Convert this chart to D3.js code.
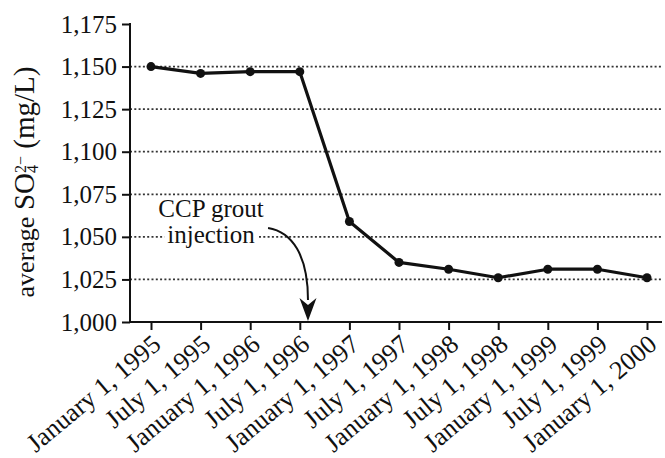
<!DOCTYPE html>
<html>
<head>
<meta charset="utf-8">
<script src="https://cdn.jsdelivr.net/npm/d3@7/dist/d3.min.js"></script>
<style>
    body { margin: 0; background: #fff; }
    svg { display: block; }
    text { font-family: "Liberation Serif", "Times New Roman", serif; fill: #111; }
</style>
</head>
<body>
<svg id="chart" width="665" height="458"></svg>
<script>
// sample dates (evenly spaced half years)
var dates = ["January 1, 1995", "July 1, 1995", "January 1, 1996", "July 1, 1996",
    "January 1, 1997", "July 1, 1997", "January 1, 1998", "July 1, 1998",
    "January 1, 1999", "July 1, 1999", "January 1, 2000"];

// average sulfate, mg/L
var sulfate = [1150, 1146, 1147, 1147, 1059, 1035, 1031, 1026, 1031, 1031, 1026];

var yTicks = [1000, 1025, 1050, 1075, 1100, 1125, 1150, 1175];
var gridValues = [1025, 1050, 1075, 1100, 1125, 1150];

// annotation, in data units (x = date index, y = mg/L)
var noteLines = ["CCP grout", "injection"];
var noteAt = [1.21, 1061.5];
var arrowPath = [[2.36, 1055.2], [2.84, 1052.9], [3.165, 1039.4], [3.165, 1012.9]];
var arrowTip = [3.165, 1000.6];

d3.select(window).on('load', init);

function init() {
    var svg = d3.select('#chart');
    var left = 130, right = 662, top = 24, bottom = 322;

    var x = d3.scaleLinear()
        .domain([0, dates.length - 1])
        .range([151, 647]);

    var y = d3.scaleLinear()
        .domain([1000, 1175])
        .range([bottom, top]);

    // dotted grid
    svg.append('g')
        .selectAll('line')
        .data(gridValues)
        .enter()
        .append('line')
        .attr('x1', left)
        .attr('x2', right)
        .attr('y1', function(d){ return y(d); })
        .attr('y2', function(d){ return y(d); })
        .attr('stroke', '#333')
        .attr('stroke-width', 1.8)
        .attr('stroke-dasharray', '2,2.3');

    // y axis
    var yAxis = d3.axisLeft(y)
        .tickValues(yTicks)
        .tickFormat(d3.format(','))
        .tickSize(8)
        .tickPadding(5);

    var gy = svg.append('g')
        .attr('transform', 'translate(' + left + ',0)')
        .call(yAxis);
    gy.select('.domain').remove();
    gy.selectAll('.tick line').attr('stroke', '#111').attr('stroke-width', 2);
    gy.selectAll('.tick text')
        .style('font-size', '25px')
        .style('font-family', '"Liberation Serif", serif')
        .attr('fill', '#111');
    gy.append('line')
        .attr('x1', 0).attr('x2', 0)
        .attr('y1', top - 1).attr('y2', bottom + 1)
        .attr('stroke', '#111').attr('stroke-width', 2);

    // x axis
    var xAxis = d3.axisBottom(x)
        .tickValues(d3.range(dates.length))
        .tickFormat(function(i){ return dates[i]; })
        .tickSize(8);

    var gx = svg.append('g')
        .attr('transform', 'translate(0,' + bottom + ')')
        .call(xAxis);
    gx.select('.domain').remove();
    gx.selectAll('.tick line').attr('stroke', '#111').attr('stroke-width', 2);
    gx.selectAll('.tick text')
        .style('font-size', '26px')
        .style('font-family', '"Liberation Serif", serif')
        .attr('fill', '#111')
        .attr('text-anchor', 'end')
        .attr('dy', null)
        .attr('y', null)
        .attr('transform', 'translate(11,25) rotate(-40)');
    gx.append('line')
        .attr('x1', left - 1).attr('x2', right)
        .attr('y1', 0).attr('y2', 0)
        .attr('stroke', '#111').attr('stroke-width', 2);

    // y label
    var yl = svg.append('text')
        .attr('transform', 'translate(34,182) rotate(-90)')
        .attr('text-anchor', 'middle');
    yl.append('tspan').text('average ').style('font-size', '26px');
    yl.append('tspan').text('SO').style('font-size', '29px');
    yl.append('tspan').text('4').style('font-size', '16px').attr('dy', 4);
    yl.append('tspan').text('2\u2212').style('font-size', '16px').attr('dx', -8).attr('dy', -12);
    yl.append('tspan').text(' (mg/L)').style('font-size', '29px').attr('dy', 8);

    // line + markers
    var line = d3.line()
        .x(function(d, i){ return x(i); })
        .y(function(d){ return y(d); });

    svg.append('path')
        .datum(sulfate)
        .attr('d', line)
        .attr('fill', 'none')
        .attr('stroke', '#111')
        .attr('stroke-width', 3.2)
        .attr('stroke-linejoin', 'round');

    svg.append('g')
        .selectAll('circle')
        .data(sulfate)
        .enter()
        .append('circle')
        .attr('cx', function(d, i){ return x(i); })
        .attr('cy', function(d){ return y(d); })
        .attr('r', 4.5)
        .attr('fill', '#111');

    // annotation
    var note = svg.append('g');
    noteLines.forEach(function(s, k){
        var t = note.append('text')
            .attr('x', x(noteAt[0]))
            .attr('y', y(noteAt[1]) + k * 26)
            .attr('text-anchor', 'middle')
            .style('font-size', '25px')
            .text(s);
        var bb = t.node().getBBox();
        note.insert('rect', 'text')
            .attr('x', bb.x - 3).attr('y', bb.y + 4)
            .attr('width', bb.width + 6).attr('height', bb.height - 6)
            .attr('fill', '#fff');
    });

    var p = arrowPath.map(function(d){ return [x(d[0]), y(d[1])]; });
    svg.append('path')
        .attr('d', 'M' + p[0] + 'C' + p[1] + ' ' + p[2] + ' ' + p[3])
        .attr('fill', 'none')
        .attr('stroke', '#111')
        .attr('stroke-width', 2);

    var tx = x(arrowTip[0]), ty = y(arrowTip[1]);
    svg.append('path')
        .attr('d', 'M' + tx + ',' + ty +
            'L' + (tx - 8.5) + ',' + (ty - 23) +
            'L' + tx + ',' + (ty - 16) +
            'L' + (tx + 8.5) + ',' + (ty - 23) + 'Z')
        .attr('fill', '#111');
}
</script>
</body>
</html>
